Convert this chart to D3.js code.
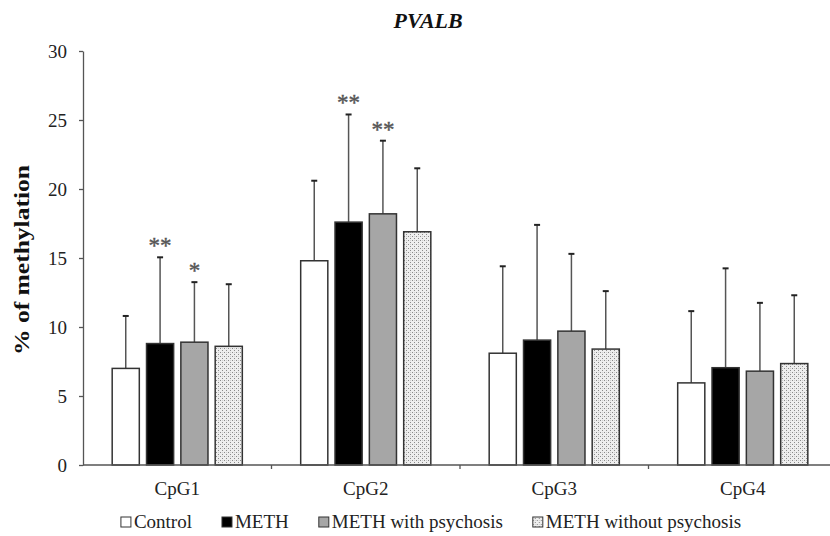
<!DOCTYPE html>
<html>
<head>
<meta charset="utf-8">
<script src="https://cdn.jsdelivr.net/npm/d3@7"></script>
<style>
  body { margin: 0; background: #fff; }
  svg { display: block; overflow: hidden; }
</style>
</head>
<body>
<svg id="chart" width="830" height="536"></svg>
<script>
// Values (mean, upper error = mean + sd)
const categories = ["CpG1", "CpG2", "CpG3", "CpG4"];
const seriesNames = ["Control", "METH", "METH with psychosis", "METH without psychosis"];
const controlMean = [7.0, 14.8, 8.1, 5.95];
const controlSd = [3.8, 5.8, 6.3, 5.2];
const methMean = [8.8, 17.6, 9.05, 7.05];
const methSd = [6.25, 7.8, 8.35, 7.2];
const psychMean = [8.9, 18.2, 9.7, 6.8];
const psychSd = [4.35, 5.3, 5.6, 4.95];
const noPsychMean = [8.6, 16.9, 8.4, 7.35];
const noPsychSd = [4.5, 4.6, 4.2, 4.95];
const methStars = ["**", "**", "", ""];
const psychStars = ["*", "**", "", ""];
const yTicks = [0, 5, 10, 15, 20, 25, 30];

const FONT = "'Liberation Serif', 'Times New Roman', Times, serif";
const fills = ["#ffffff", "#000000", "#a6a6a6", "url(#dots)"];

const series = [
  { name: seriesNames[0], mean: controlMean, sd: controlSd, stars: ["", "", "", ""] },
  { name: seriesNames[1], mean: methMean, sd: methSd, stars: methStars },
  { name: seriesNames[2], mean: psychMean, sd: psychSd, stars: psychStars },
  { name: seriesNames[3], mean: noPsychMean, sd: noPsychSd, stars: ["", "", "", ""] },
];

const render = (selector) => {
  const svg = d3.select(selector).attr("font-family", FONT);
  const margin = { top: 51, left: 83, bottom: 71 };
  const height = +svg.attr("height");
  const innerHeight = height - margin.top - margin.bottom;

  // stipple pattern for the last series
  const pat = svg
    .append("defs")
    .append("pattern")
    .attr("id", "dots")
    .attr("width", 4)
    .attr("height", 4)
    .attr("patternUnits", "userSpaceOnUse");
  pat.append("rect").attr("width", 4).attr("height", 4).attr("fill", "#eeeeee");
  pat.append("rect").attr("x", 0).attr("y", 0).attr("width", 1).attr("height", 1).attr("fill", "#8a8a8a");
  pat.append("rect").attr("x", 2).attr("y", 2).attr("width", 1).attr("height", 1).attr("fill", "#8a8a8a");
  pat.append("rect").attr("x", 2).attr("y", 0).attr("width", 1).attr("height", 1).attr("fill", "#cfcfcf");

  const yScale = d3
    .scaleLinear()
    .domain([0, 30])
    .range([margin.top + innerHeight, margin.top]);

  const x0 = d3
    .scaleBand()
    .domain(categories)
    .range([margin.left, margin.left + 4 * 188.5])
    .padding(0);

  const x1 = d3
    .scaleBand()
    .domain(seriesNames)
    .range([0, x0.bandwidth()])
    .paddingInner(0.21)
    .paddingOuter(0.85);

  // y axis
  const yAxisG = svg
    .append("g")
    .attr("transform", `translate(${margin.left},0)`)
    .call(d3.axisLeft(yScale).tickValues(yTicks).tickSize(4).tickSizeOuter(0).tickPadding(12))
    .attr("font-family", FONT);
  yAxisG.select(".domain").attr("stroke", "#555").attr("stroke-width", 1.3);
  yAxisG.selectAll(".tick line").attr("stroke", "#555").attr("stroke-width", 1.3);
  yAxisG.selectAll(".tick text").attr("font-size", 19).attr("fill", "#222");

  // bars
  const groups = svg
    .selectAll("g.series")
    .data(series)
    .enter()
    .append("g")
    .attr("class", "series");

  groups.each(function (s, si) {
    const g = d3.select(this);
    const rows = categories.map((c, i) => ({ c, mean: s.mean[i], sd: s.sd[i], star: s.stars[i] }));
    const bx = (d) => x0(d.c) + x1(s.name);

    // error bars (upper only)
    g.selectAll("line.err")
      .data(rows)
      .enter()
      .append("line")
      .attr("x1", (d) => bx(d) + x1.bandwidth() / 2)
      .attr("x2", (d) => bx(d) + x1.bandwidth() / 2)
      .attr("y1", (d) => yScale(d.mean))
      .attr("y2", (d) => yScale(d.mean + d.sd))
      .attr("stroke", "#555")
      .attr("stroke-width", 1.5);

    g.selectAll("line.cap")
      .data(rows)
      .enter()
      .append("line")
      .attr("x1", (d) => bx(d) + x1.bandwidth() / 2 - 3)
      .attr("x2", (d) => bx(d) + x1.bandwidth() / 2 + 3)
      .attr("y1", (d) => yScale(d.mean + d.sd))
      .attr("y2", (d) => yScale(d.mean + d.sd))
      .attr("stroke", "#222")
      .attr("stroke-width", 2);

    g.selectAll("rect")
      .data(rows)
      .enter()
      .append("rect")
      .attr("x", bx)
      .attr("y", (d) => yScale(d.mean))
      .attr("width", x1.bandwidth())
      .attr("height", (d) => yScale(0) - yScale(d.mean))
      .attr("fill", fills[si])
      .attr("stroke", "#333")
      .attr("stroke-width", 1.5);

    g.selectAll("text.star")
      .data(rows.filter((d) => d.star))
      .enter()
      .append("text")
      .attr("x", (d) => bx(d) + x1.bandwidth() / 2)
      .attr("y", (d) => yScale(d.mean + d.sd) - 4)
      .attr("text-anchor", "middle")
      .attr("font-size", 23)
      .attr("fill", "#555")
      .attr("stroke", "#555")
      .attr("stroke-width", 0.4)
      .text((d) => d.star);
  });

  // x axis: baseline, separators and labels
  const xAxisG = svg.append("g");
  xAxisG
    .append("line")
    .attr("x1", margin.left)
    .attr("x2", x0.range()[1])
    .attr("y1", yScale(0))
    .attr("y2", yScale(0))
    .attr("stroke", "#555")
    .attr("stroke-width", 1.3);
  xAxisG
    .selectAll("line.sep")
    .data(categories)
    .enter()
    .append("line")
    .attr("x1", (d) => x0(d) + x0.bandwidth())
    .attr("x2", (d) => x0(d) + x0.bandwidth())
    .attr("y1", yScale(0))
    .attr("y2", yScale(0) + 4)
    .attr("stroke", "#555")
    .attr("stroke-width", 1.3);
  xAxisG
    .selectAll("text")
    .data(categories)
    .enter()
    .append("text")
    .attr("x", (d) => x0(d) + x0.bandwidth() / 2)
    .attr("y", 495)
    .attr("text-anchor", "middle")
    .attr("font-size", 19)
    .attr("fill", "#222")
    .text((d) => d);

  // title
  svg
    .append("text")
    .attr("x", 428)
    .attr("y", 28)
    .attr("text-anchor", "middle")
    .attr("font-size", 22)
    .attr("font-weight", "bold")
    .attr("font-style", "italic")
    .attr("fill", "#111")
    .attr("textLength", 69)
    .attr("lengthAdjust", "spacingAndGlyphs")
    .text("PVALB");

  // y axis label
  svg
    .append("text")
    .attr("transform", "translate(29,260) rotate(-90)")
    .attr("text-anchor", "middle")
    .attr("font-size", 22)
    .attr("font-weight", "bold")
    .attr("fill", "#111")
    .attr("textLength", 190)
    .attr("lengthAdjust", "spacingAndGlyphs")
    .text("% of methylation");

  // legend
  const legend = svg.append("g");
  let cursor = 0;
  seriesNames.forEach((name, i) => {
    const item = legend.append("g").attr("transform", `translate(${cursor},0)`);
    item
      .append("rect")
      .attr("x", 0)
      .attr("y", 517)
      .attr("width", 10)
      .attr("height", 10)
      .attr("fill", fills[i])
      .attr("stroke", "#333")
      .attr("stroke-width", 1);
    const t = item
      .append("text")
      .attr("x", 13)
      .attr("y", 528)
      .attr("font-size", 19)
      .attr("fill", "#222")
      .text(name);
    cursor += 13 + t.node().getComputedTextLength() + 30;
  });
  const legendWidth = cursor - 30;
  legend.attr("transform", `translate(${431 - legendWidth / 2},0)`);
};

render("#chart");
</script>
</body>
</html>
